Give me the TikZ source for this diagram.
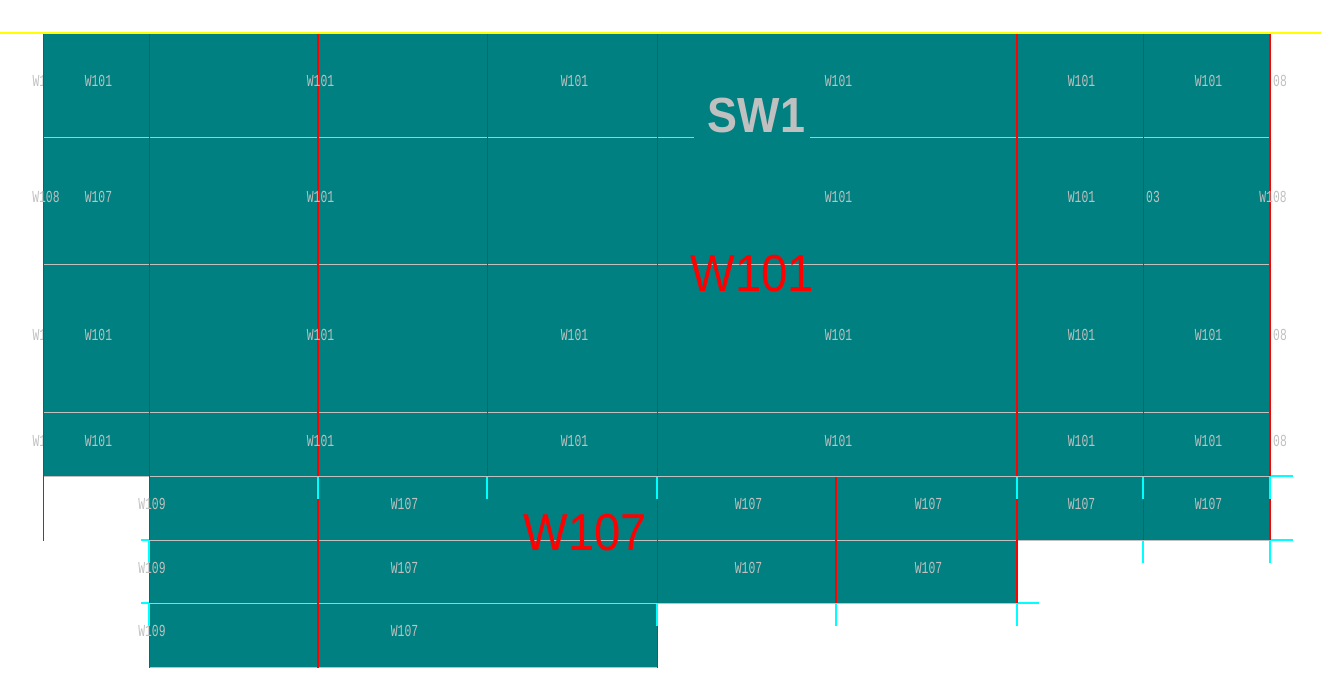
\documentclass[tikz,border=0pt]{standalone}
\usepackage{fontspec}
\setmainfont{Liberation Sans}
\newfontfamily\tagfont{Liberation Mono}
\definecolor{slabteal}{RGB}{0, 128, 128}
\definecolor{beamred}{RGB}{255, 0, 0}
\definecolor{stubcyan}{RGB}{0, 255, 255}
\definecolor{edgegray}{RGB}{192, 192, 192}
\definecolor{axisyellow}{RGB}{255, 255, 0}
\tikzset{
  walltag/.style={text=edgegray,font=\tagfont\fontsize{12}{12}\selectfont,inner sep=0pt,xscale=0.71,yscale=1.05},
  edgeline/.style={edgegray,line width=0.75pt},
  beamline/.style={beamred,line width=0.75pt},
  beamheavy/.style={beamred,line width=1.4pt},
  stubline/.style={stubcyan,line width=0.85pt},
  bigtag/.style={text=beamred,font=\fontsize{39}{39}\selectfont,inner sep=0pt,xscale=0.91},
}
\begin{document}
\begin{tikzpicture}[x=0.75pt,y=-0.75pt]
\useasboundingbox (0,0) rectangle (1321,691);

% Tags cut off by the slab
\foreach \py [count=\i] in {81,335,441}
  \node[walltag] (cut\i) at (39.5,\py) {W1};

% Slab outline
\fill[slabteal] (43,33) -- (1270,33) -- (1270,540) -- (1017,540) -- (1017,603) -- (657,603)
  -- (657,667) -- (149,667) -- (149,476) -- (43,476) -- cycle;

% Horizontal edges
\draw[edgeline] (43,138) -- (694,138);
\draw[edgeline] (810,138) -- (1270,138);
\draw[edgeline] (43,265) -- (1270,265);
\draw[edgeline] (43,413) -- (1270,413);
\draw[edgeline] (43,476) -- (1270,476);
\draw[edgeline] (149,540) -- (1270,540);
\draw[edgeline] (149,603) -- (1017,603);
\draw[edgeline] (149,667) -- (657,667);

% Stubs
\draw[stubline] (141,540) -- (149,540);
\draw[stubline] (141,603) -- (149,603);
\draw[stubline] (1270,476) -- (1293,476);
\draw[stubline] (1270,540) -- (1293,540);
\draw[stubline] (1017,603) -- (1039,603);
\foreach \px in {318,487,657,1017,1143,1270}
  \draw[stubline] (\px,477) -- (\px,499);
\foreach \px in {149,1143,1270}
  \draw[stubline] (\px,541) -- (\px,563);
\foreach \px in {149,657,836,1017}
  \draw[stubline] (\px,604) -- (\px,626);

% Red lines
\draw[beamline] (43,33) -- (43,541);
\draw[beamline] (149,33) -- (149,540);
\draw[beamline] (149,563) -- (149,603);
\draw[beamline] (149,626) -- (149,668);
\draw[beamheavy] (318,33) -- (318,476);
\draw[beamheavy] (318,499) -- (318,668);
\draw[beamline] (487,33) -- (487,476);
\draw[beamline] (657,33) -- (657,476);
\draw[beamline] (657,499) -- (657,603);
\draw[beamline] (657,626) -- (657,668);
\draw[beamheavy] (836,477) -- (836,603);
\draw[beamheavy] (1017,33) -- (1017,476);
\draw[beamheavy] (1017,499) -- (1017,603);
\draw[beamline] (1143,33) -- (1143,476);
\draw[beamline] (1143,499) -- (1143,540);
\draw[beamheavy] (1270,33) -- (1270,476);
\draw[beamheavy] (1270,499) -- (1270,540);

% Axis
\draw[axisyellow,line width=1.2pt] (0,33) -- (1321,33);

% Row tags
\foreach \px/\py/\txt [count=\i] in {
  98.5/81/W101, 320.5/81/W101, 574.5/81/W101, 838.5/81/W101, 1081.5/81/W101, 1208.5/81/W101,
  98.5/197/W107, 320.5/197/W101, 838.5/197/W101, 1081.5/197/W101,
  98.5/335/W101, 320.5/335/W101, 574.5/335/W101, 838.5/335/W101, 1081.5/335/W101, 1208.5/335/W101,
  98.5/441/W101, 320.5/441/W101, 574.5/441/W101, 838.5/441/W101, 1081.5/441/W101, 1208.5/441/W101,
  404.5/504/W107, 748.5/504/W107, 928.5/504/W107, 1081.5/504/W107, 1208.5/504/W107,
  404.5/568/W107, 748.5/568/W107, 928.5/568/W107,
  404.5/631/W107,
  46/197/W108, 1273/197/W108, 152/504/W109, 152/568/W109, 152/631/W109,
  1280/81/08, 1280/335/08, 1280/441/08, 1153/197/03}
  \node[walltag] (tag\i) at (\px,\py) {\txt};

% Big labels
\node[text=edgegray,font=\bfseries\fontsize{37}{37}\selectfont,inner sep=0pt,xscale=0.91] (sw) at (756.5,116) {SW1};
\node[bigtag] (slabmain) at (752.5,274) {W101};
\node[bigtag] (slabsub) at (585.5,533) {W107};
\end{tikzpicture}
\end{document}
